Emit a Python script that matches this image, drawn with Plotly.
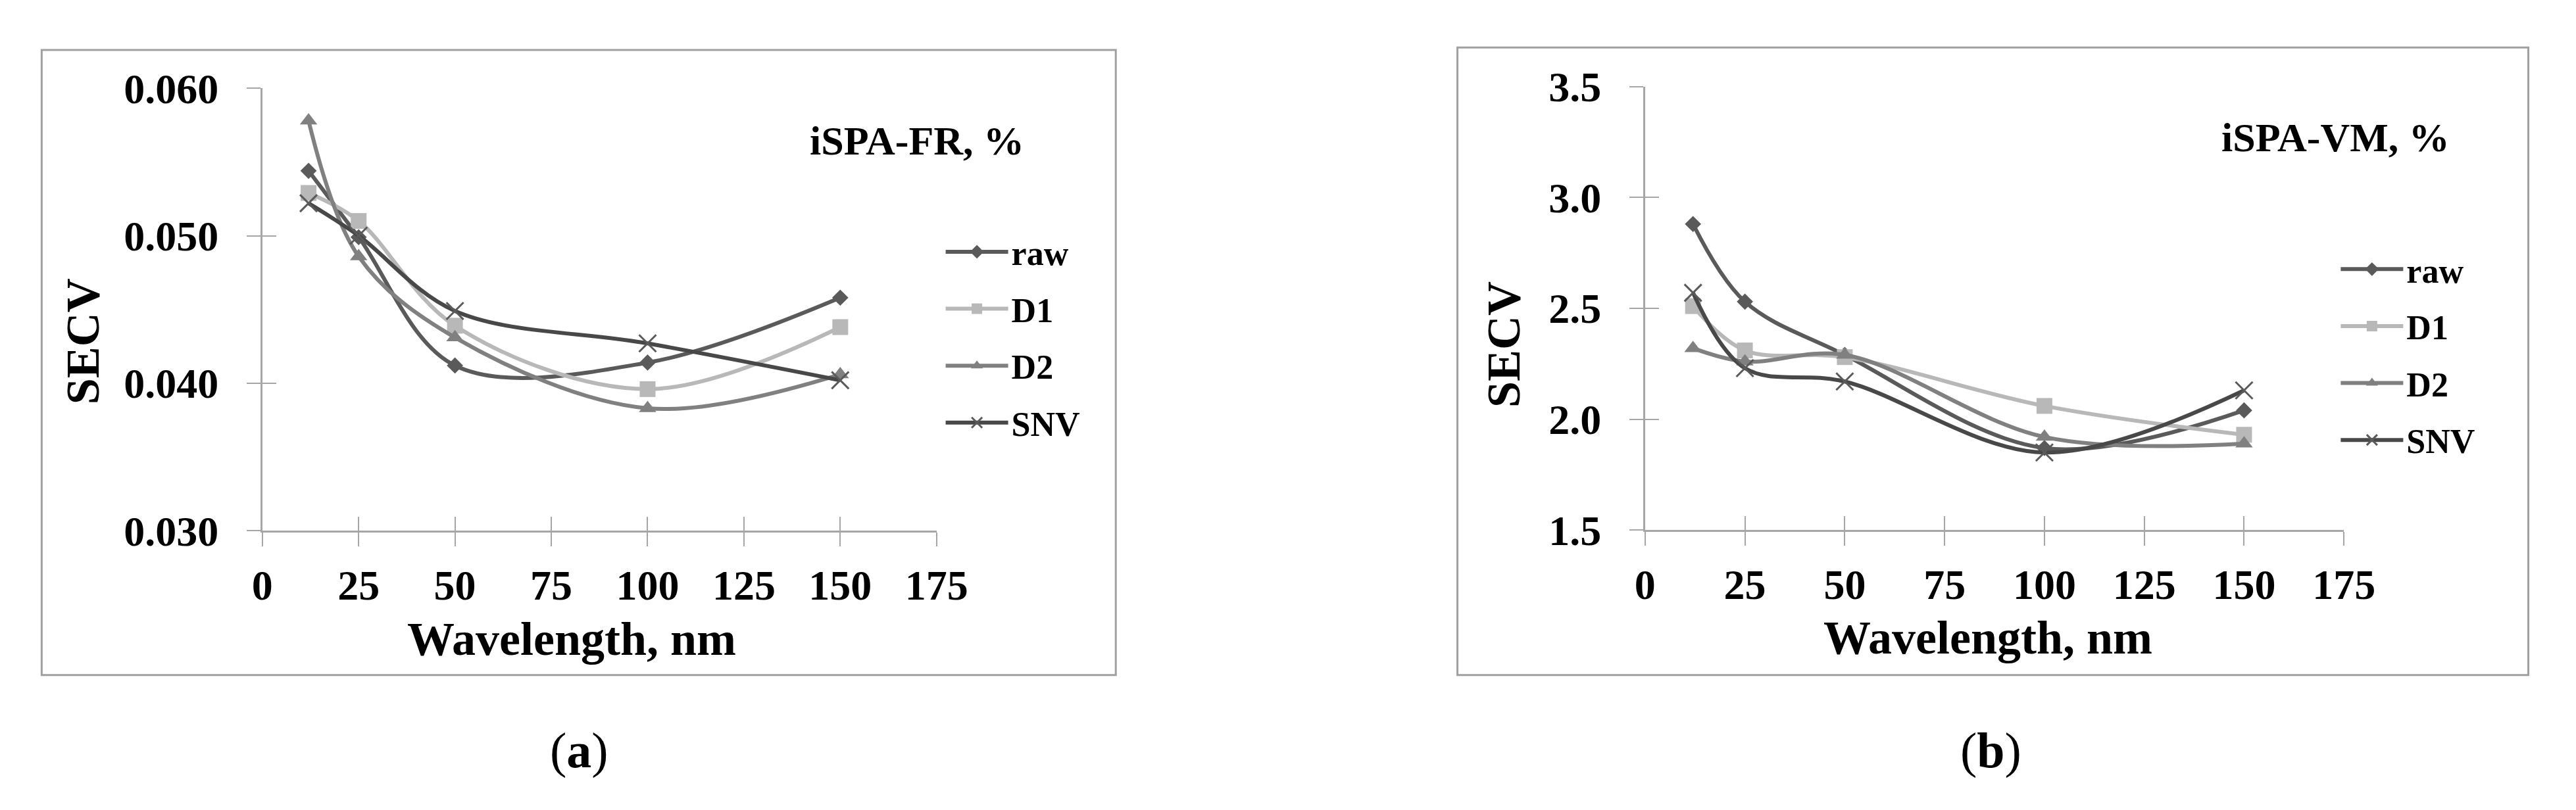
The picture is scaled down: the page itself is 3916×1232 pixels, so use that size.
import plotly.graph_objects as go

# ---------------- data ----------------
wavelength = [12, 25, 50, 100, 150]
series_names = ["raw", "D1", "D2", "SNV"]

fr_raw = [0.0544, 0.0499, 0.0412, 0.0414, 0.0458]
fr_d1 = [0.0529, 0.0510, 0.0439, 0.0396, 0.0438]
fr_d2 = [0.0578, 0.0486, 0.0431, 0.0383, 0.0406]
fr_snv = [0.0522, 0.0500, 0.0449, 0.0427, 0.0402]

vm_raw = [2.88, 2.53, 2.29, 1.87, 2.04]
vm_d1 = [2.51, 2.31, 2.28, 2.06, 1.93]
vm_d2 = [2.32, 2.26, 2.29, 1.92, 1.89]
vm_snv = [2.57, 2.23, 2.17, 1.85, 2.13]

x_ticks = [0, 25, 50, 75, 100, 125, 150, 175]
fr_ticks = [0.030, 0.040, 0.050, 0.060]
fr_ticktext = ["0.030", "0.040", "0.050", "0.060"]
vm_ticks = [1.5, 2.0, 2.5, 3.0, 3.5]
vm_ticktext = ["1.5", "2.0", "2.5", "3.0", "3.5"]

panel_labels = ["iSPA-FR, %", "iSPA-VM, %"]
x_title = "Wavelength, nm"
y_title = "SECV"
captions = ["(<b>a</b>)", "(<b>b</b>)"]

# ---------------- styles ----------------
W, H = 3916, 1232
FONT = "Liberation Serif"
AX = "#a6a6a6"
line_colors = ["#5a5a5a", "#b8b8b8", "#808080", "#484848"]
marker_syms = ["diamond", "square", "triangle-up", "x-thin"]
marker_sizes = [19, 24, 23, 26]


def px(x):
    return x / W


def py(y):
    return 1 - y / H


fig = go.Figure()

fr_data = [fr_raw, fr_d1, fr_d2, fr_snv]
vm_data = [vm_raw, vm_d1, vm_d2, vm_snv]

for panel, (data, xa, ya, leg) in enumerate([(fr_data, "x", "y", "legend"),
                                              (vm_data, "x2", "y2", "legend2")]):
    for i, name in enumerate(series_names):
        mk = dict(symbol=marker_syms[i], size=marker_sizes[i], color=line_colors[i])
        if marker_syms[i] == "x-thin":
            mk["line"] = dict(width=3, color="#5a5a5a")
        fig.add_trace(go.Scatter(
            x=wavelength, y=data[i], name=name, mode="lines+markers",
            line=dict(color=line_colors[i], width=6, shape="spline", smoothing=1.0),
            marker=mk, xaxis=xa, yaxis=ya, legend=leg,
            legendgroup=f"{panel}-{name}",
        ))

# invisible traces to activate overlay axes (inside half of cross ticks)
fig.add_trace(go.Scatter(x=[None], y=[None], xaxis="x3", yaxis="y3", showlegend=False, hoverinfo="skip"))
fig.add_trace(go.Scatter(x=[None], y=[None], xaxis="x4", yaxis="y4", showlegend=False, hoverinfo="skip"))

tickfont = dict(family=FONT, size=64, color="black", weight="bold")

L_x = [px(381), px(1423)]
L_y = [py(811), py(96.7)]
R_x = [px(2518), px(3598)]
R_y = [py(810), py(94)]

common_x = dict(range=[0, 175], tickvals=x_ticks, showgrid=False, zeroline=False,
                showline=True, linecolor=AX, linewidth=2.5, ticks="outside",
                ticklen=21, tickwidth=2, tickcolor=AX, tickfont=tickfont,
                ticklabelstandoff=4)
common_y = dict(showgrid=False, zeroline=False, showline=True, linecolor=AX,
                linewidth=2.5, ticks="outside", ticklen=21, tickwidth=2,
                tickcolor=AX, tickfont=tickfont, ticklabelstandoff=30)
inner_x = dict(range=[0, 175], tickvals=x_ticks, showgrid=False, zeroline=False,
               showline=False, ticks="inside", ticklen=21, tickwidth=2,
               tickcolor=AX, showticklabels=False)
inner_y = dict(showgrid=False, zeroline=False, showline=False, ticks="inside",
               ticklen=21, tickwidth=2, tickcolor=AX, showticklabels=False)

fig.update_layout(
    width=W, height=H, margin=dict(l=0, r=0, t=0, b=0),
    paper_bgcolor="white", plot_bgcolor="rgba(0,0,0,0)",
    xaxis=dict(domain=L_x, anchor="y", **common_x),
    yaxis=dict(domain=L_y, anchor="x", range=[0.030, 0.060], tickvals=fr_ticks,
               ticktext=fr_ticktext, **common_y),
    xaxis2=dict(domain=R_x, anchor="y2", **common_x),
    yaxis2=dict(domain=R_y, anchor="x2", range=[1.5, 3.5], tickvals=vm_ticks,
                ticktext=vm_ticktext, **common_y),
    xaxis3=dict(domain=L_x, anchor="y3", overlaying="x", **inner_x),
    yaxis3=dict(domain=L_y, anchor="x3", overlaying="y", range=[0.030, 0.060],
                tickvals=fr_ticks, **inner_y),
    xaxis4=dict(domain=R_x, anchor="y4", overlaying="x2", **inner_x),
    yaxis4=dict(domain=R_y, anchor="x4", overlaying="y2", range=[1.5, 3.5],
                tickvals=vm_ticks, **inner_y),
    showlegend=True,
)

legfont = dict(family=FONT, size=52, color="black", weight="bold")
fig.update_layout(
    legend=dict(x=px(1432), y=py(318), xanchor="left", yanchor="top",
                font=legfont, itemwidth=95, tracegroupgap=16,
                bgcolor="rgba(0,0,0,0)"),
    legend2=dict(x=px(3588), y=py(346), xanchor="left", yanchor="top",
                 font=legfont, itemwidth=95, tracegroupgap=16,
                 bgcolor="rgba(0,0,0,0)"),
)

# panel frames
for x0, y0, x1, y1 in [(40, 35, 1700, 1044), (2228, 31, 3883, 1044)]:
    fig.add_shape(type="rect", xref="paper", yref="paper",
                  x0=px(x0), x1=px(x1), y0=py(y1), y1=py(y0),
                  line=dict(color="#a0a0a0", width=3), fillcolor="rgba(0,0,0,0)",
                  layer="below")

ann_font = dict(family=FONT, size=62, color="black", weight="bold")
title_font = dict(family=FONT, size=72, color="black", weight="bold")
cap_font = dict(family=FONT, size=76, color="black")

annots = [
    dict(text=panel_labels[0], x=px(1560), y=py(181), xanchor="right", yanchor="middle", font=ann_font),
    dict(text=panel_labels[1], x=px(3764), y=py(176), xanchor="right", yanchor="middle", font=ann_font),
    dict(text=x_title, x=px(859), y=py(986), xanchor="center", yanchor="middle", font=title_font),
    dict(text=x_title, x=px(3048), y=py(984), xanchor="center", yanchor="middle", font=title_font),
    dict(text=y_title, x=px(104), y=py(505), xanchor="center", yanchor="middle", textangle=-90, font=title_font),
    dict(text=y_title, x=px(2299), y=py(510), xanchor="center", yanchor="middle", textangle=-90, font=title_font),
    dict(text=captions[0], x=px(871), y=py(1166), xanchor="center", yanchor="middle", font=cap_font),
    dict(text=captions[1], x=px(3052), y=py(1166), xanchor="center", yanchor="middle", font=cap_font),
]
for a in annots:
    fig.add_annotation(xref="paper", yref="paper", showarrow=False, **a)

fig.write_html("out.html")
